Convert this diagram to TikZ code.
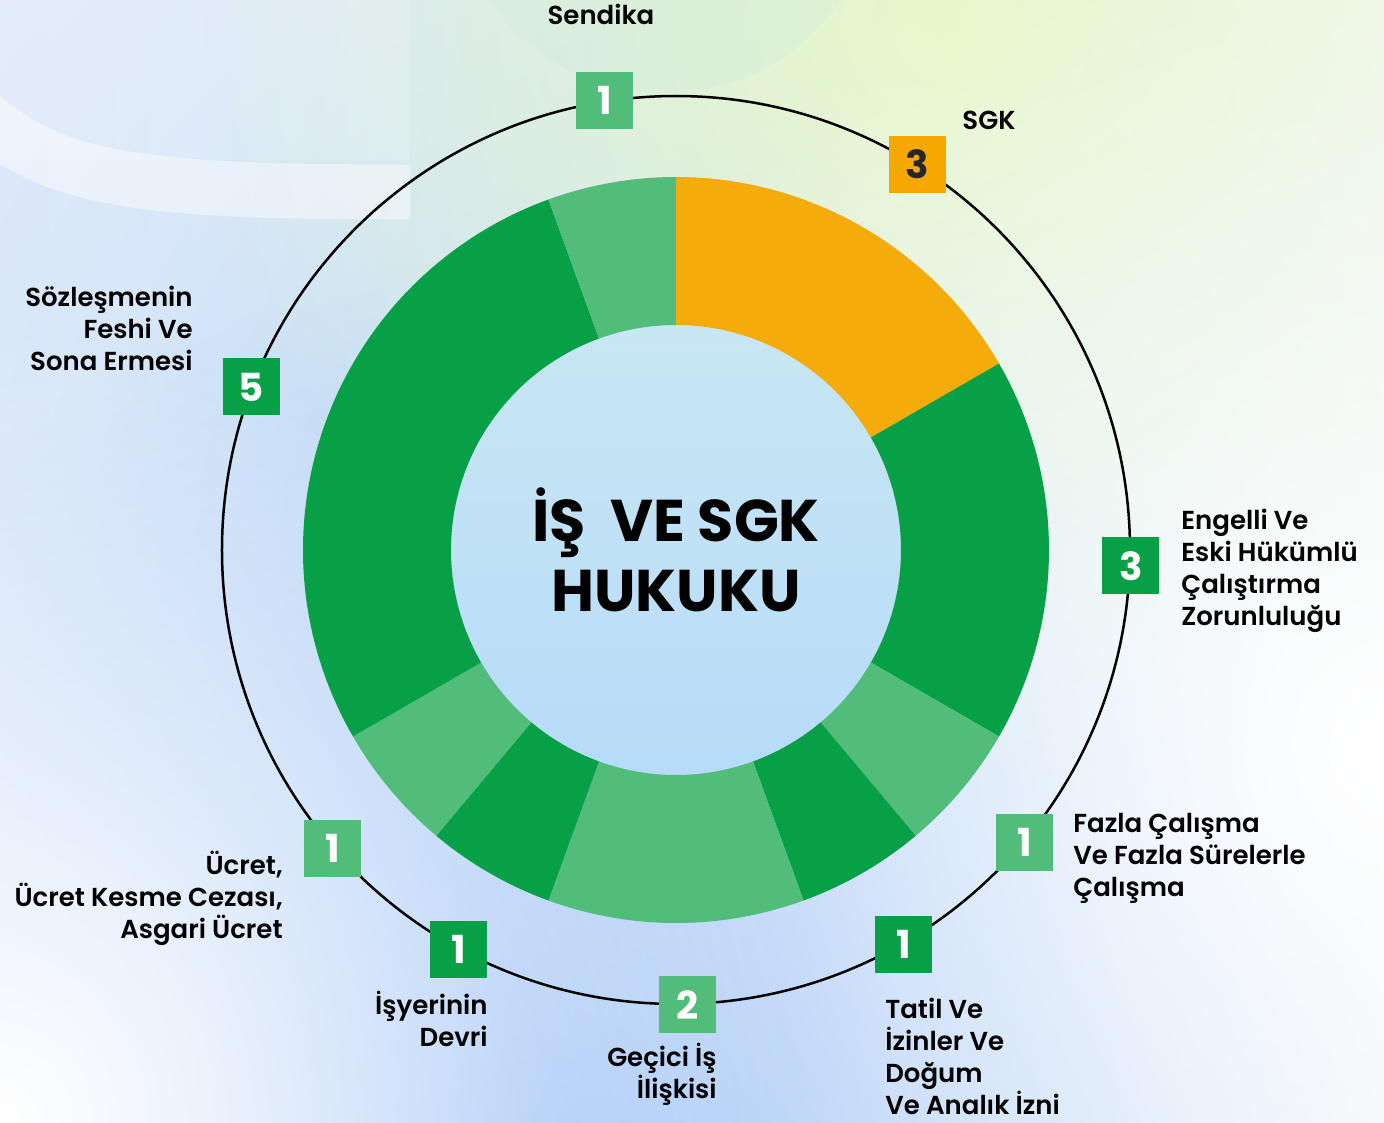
\documentclass[tikz,border=0pt]{standalone}
\usepackage{fontspec}
\setmainfont{Poppins}
\newfontfamily\semibold{Poppins SemiBold}
\usetikzlibrary{fadings}

\definecolor{dkgreen}{HTML}{07A046}
\definecolor{ltgreen}{HTML}{52BD7B}
\definecolor{sgkorange}{HTML}{F5AC0B}
\definecolor{badgeorange}{HTML}{F6A800}
\definecolor{bgleft}{HTML}{E4EBFA}
\definecolor{bgright}{HTML}{F6F9F7}
\definecolor{skyblue}{HTML}{9CC0F7}
\definecolor{paleblue}{HTML}{BFDDF8}
\definecolor{limewash}{HTML}{E8F8C8}
\definecolor{mint}{HTML}{CFEBDD}
\definecolor{coretop}{HTML}{C9E7F3}
\definecolor{corebottom}{HTML}{B6DBF9}

\tikzfading[name=blobfade, inner color=transparent!0, outer color=transparent!100]

\tikzset{
  badge/.style={minimum size=1.14cm, inner sep=0pt, font=\fontsize{22}{22}\selectfont\bfseries},
  topic/.style={inner sep=0pt, font=\semibold\fontsize{14.8}{18.2}\selectfont},
  blob/.style={path fading=blobfade}
}

\begin{document}
\begin{tikzpicture}[x=0.02cm, y=0.02cm]
  \useasboundingbox (-676,-573) rectangle (708,550);
  \clip (-676,-573) rectangle (708,550);
  % background
  \shade[left color=bgleft, right color=bgright] (-676,-573) rectangle (708,550);
  \fill[paleblue, blob] (0,-10) circle[radius=960];
  \fill[skyblue, blob] (-130,-600) circle[radius=900];
  \fill[limewash, blob] (274,520) circle[radius=760];
  \fill[mint, opacity=0.3] (-11,670) circle[radius=213];
  \fill[white, blob] (708,-200) circle[radius=900];
  \fill[white, blob] (-676,-573) circle[radius=800];
  \fill[white, opacity=0.15] (-676,550) rectangle (-266,390);
  \draw[white, opacity=0.45, line width=1.1cm] (-720,460) .. controls (-640,370) and (-556,358) .. (-266,358);

  % donut
  \shade[top color=coretop, bottom color=corebottom] (0,0) circle[radius=240];
  \foreach \a/\b/\c in {90/30/sgkorange, 30/-30/dkgreen, -30/-50/ltgreen, -50/-70/dkgreen, -70/-110/ltgreen, -110/-130/dkgreen, -130/-150/ltgreen, -150/-250/dkgreen, -250/-270/ltgreen}
    \fill[\c] (\a:373) arc[start angle=\a, end angle=\b, radius=373] -- (\b:225) arc[start angle=\b, end angle=\a, radius=225] -- cycle;

  \draw[line width=0.05cm] (0,0) circle[radius=454];

  \foreach \ang/\num/\col/\txt/\name in {99/1/ltgreen/white/sendika, 58/3/badgeorange/black!85/sgk, -2/3/dkgreen/white/engelli, -40/1/ltgreen/white/fazla, -60/1/dkgreen/white/tatil, -88.5/2/ltgreen/white/gecici, -118.5/1/dkgreen/white/isyeri, -139/1/ltgreen/white/ucret, 159/5/dkgreen/white/sozlesme}
    \node[badge, fill=\col, text=\txt] (\name) at (\ang:455) {\num};

  \node[topic] (sendikaText) at (-75,536) {Sendika};
  \node[topic] (sgkText) at (313,430) {SGK};
  \node[topic, anchor=east, align=right] (sozlesmeText) at (-483,222) {Sözleşmenin\\Feshi Ve\\Sona Ermesi};
  \node[topic, anchor=west, align=left] (engelliText) at (505,-21) {Engelli Ve\\Eski Hükümlü\\Çalıştırma\\Zorunluluğu};
  \node[topic, anchor=west, align=left] (fazlaText) at (397,-308) {Fazla Çalışma\\Ve Fazla Sürelerle\\Çalışma};
  \node[topic, anchor=west, align=left] (tatilText) at (209,-506) {Tatil Ve\\İzinler Ve\\Doğum\\Ve Analık İzni};
  \node[topic, anchor=east, align=right] (geciciText) at (41,-524) {Geçici İş\\İlişkisi};
  \node[topic, anchor=east, align=right] (isyeriText) at (-188,-469) {İşyerinin\\Devri};
  \node[topic, anchor=east, align=right] (ucretText) at (-393,-348) {Ücret,\\Ücret Kesme Cezası,\\Asgari Ücret};

  \node[font=\fontsize{33.5}{39.8}\selectfont\bfseries, align=center, inner sep=0pt] (title) at (0,0) {İŞ\ \ VE SGK\\HUKUKU};
\end{tikzpicture}
\end{document}
